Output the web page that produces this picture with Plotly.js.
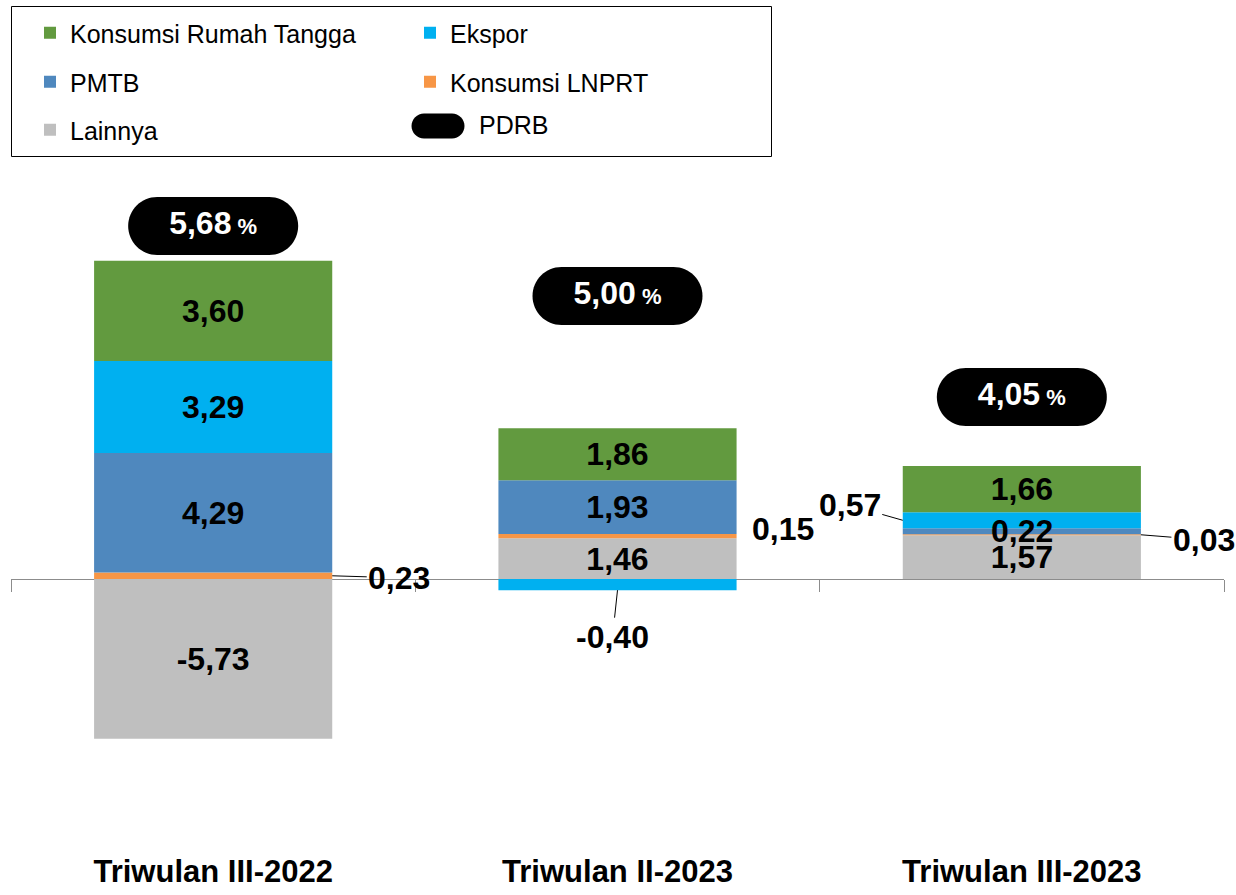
<!DOCTYPE html>
<html><head><meta charset="utf-8">
<script src="https://cdn.plot.ly/plotly-3.0.1.min.js"></script>
<style>html,body{margin:0;padding:0;background:#fff}#chart{width:1236px;height:895px}</style>
</head><body><div id="chart"></div>
<script>
// ---------- data ----------
const categories = ['Triwulan III-2022', 'Triwulan II-2023', 'Triwulan III-2023'];
const konsumsiRT = [3.60, 1.86, 1.66];
const ekspor = [3.29, -0.40, 0.57];
const pmtb = [4.29, 1.93, 0.22];
const konsumsiLNPRT = [0.23, 0.15, 0.03];
const lainnya = [-5.73, 1.46, 1.57];
const pdrb = [5.68, 5.00, 4.05];
const seriesNames = ['Konsumsi Rumah Tangga', 'Ekspor', 'PMTB', 'Konsumsi LNPRT', 'Lainnya', 'PDRB'];

// ---------- styling / layout ----------
const W = 1236, H = 895;
const M = {l: 11, r: 12, t: 180, b: 95};
const PW = W - M.l - M.r, PH = H - M.t - M.b;
const Y_RANGE = [-7.921, 14.301];
const BARW = 0.589;
const FONT = 'Liberation Sans, Arial, sans-serif';
const colors = {rt: '#629A3F', ekspor: '#00B0F0', pmtb: '#4F88BE', lnprt: '#F79646', lainnya: '#BFBFBF'};
const fmt = v => v.toFixed(2).replace('.', ',');
const px2x = px => (px - M.l) / PW;
const py2y = py => (H - M.b - py) / PH;

// stacking order (bottom to top) as used by the relative barmode
const stack = [
  {key: 'lainnya', arr: lainnya, name: seriesNames[4], legend: 'legend3', rank: 1},
  {key: 'lnprt', arr: konsumsiLNPRT, name: seriesNames[3], legend: 'legend2', rank: 2},
  {key: 'pmtb', arr: pmtb, name: seriesNames[2], legend: 'legend2', rank: 1},
  {key: 'ekspor', arr: ekspor, name: seriesNames[1], legend: 'legend', rank: 2},
  {key: 'rt', arr: konsumsiRT, name: seriesNames[0], legend: 'legend', rank: 1}
];
function segment(key, i) {
  let pos = 0, neg = 0;
  for (const s of stack) {
    const v = s.arr[i];
    const base = v >= 0 ? pos : neg;
    if (s.key === key) return [base, base + v];
    if (v >= 0) pos += v; else neg += v;
  }
}

// labels drawn outside the bar with leader lines (ax/ay are pixel offsets of the text)
const outside = [
  {key: 'lnprt', i: 0, side: 'right', ax: 67, ay: 2, line: true},
  {key: 'lnprt', i: 1, side: 'right', ax: 46, ay: -7, line: false},
  {key: 'ekspor', i: 1, side: 'bottom', ax: -5, ay: 47, line: true},
  {key: 'ekspor', i: 2, side: 'left', ax: -53, ay: -15, line: true},
  {key: 'lnprt', i: 2, side: 'right', ax: 63, ay: 5, line: true},
  {key: 'pmtb', i: 2, side: 'center', ax: 0, ay: 0, line: false}
];
const outsideSet = new Set(outside.map(o => o.key + o.i));

const traces = stack.map(s => ({
  type: 'bar',
  x: categories,
  y: s.arr,
  name: s.name,
  legend: s.legend,
  legendrank: s.rank,
  width: BARW,
  marker: {color: colors[s.key], line: {width: 0}},
  text: s.arr.map((v, i) => outsideSet.has(s.key + i) ? '' : fmt(v)),
  textposition: 'inside',
  insidetextanchor: 'middle',
  constraintext: 'none',
  textangle: 0,
  insidetextfont: {family: FONT, size: 32, color: '#000', weight: 'bold'},
  hoverinfo: 'skip'
}));

// PDRB labels (pill centres, in axis units)
const pillY = [12.65, 10.14, 6.52];
traces.push({
  type: 'scatter',
  mode: 'text',
  x: categories,
  y: pillY,
  name: seriesNames[5],
  text: pdrb.map(v => '<b>' + fmt(v) + '</b><b><span style="font-size:22px"> %</span></b>'),
  textposition: 'middle center',
  textfont: {family: FONT, size: 32, color: '#fff'},
  showlegend: false,
  cliponaxis: false,
  hoverinfo: 'skip'
});

function pillPath(hw, hh, dx) {
  const r = hh, a = hw - r, c = 0.5523 * r;
  const p = (x, y) => (x + dx).toFixed(2) + ',' + y.toFixed(2);
  return 'M' + p(-a, -r) + ' L' + p(a, -r) +
    ' C' + p(a + c, -r) + ' ' + p(a + r, -c) + ' ' + p(a + r, 0) +
    ' C' + p(a + r, c) + ' ' + p(a + c, r) + ' ' + p(a, r) +
    ' L' + p(-a, r) +
    ' C' + p(-a - c, r) + ' ' + p(-a - r, c) + ' ' + p(-a - r, 0) +
    ' C' + p(-a - r, -c) + ' ' + p(-a - c, -r) + ' ' + p(-a, -r) + ' Z';
}

const shapes = pillY.map((y, i) => ({
  type: 'path', xref: 'x', yref: 'y', xsizemode: 'pixel', ysizemode: 'pixel',
  xanchor: i, yanchor: y, path: pillPath(85, 29, 0),
  fillcolor: '#000', line: {width: 0}, layer: 'below'
}));
// legend frame
shapes.push({type: 'rect', xref: 'paper', yref: 'paper',
  x0: px2x(11.5), x1: px2x(771.5), y0: py2y(156.5), y1: py2y(6.5),
  line: {color: '#000', width: 1}, fillcolor: 'rgba(0,0,0,0)'});
// PDRB legend symbol
shapes.push({type: 'path', xref: 'paper', yref: 'paper', xsizemode: 'pixel', ysizemode: 'pixel',
  xanchor: px2x(438), yanchor: py2y(126), path: pillPath(26.5, 12.5, 0),
  fillcolor: '#000', line: {width: 0}});

const annFont = {family: FONT, size: 32, color: '#000', weight: 'bold'};
const annotations = outside.map(o => {
  const arr = stack.find(s => s.key === o.key).arr;
  const [b0, b1] = segment(o.key, o.i);
  let x = o.i, y = (b0 + b1) / 2;
  if (o.side === 'right') x = o.i + BARW / 2;
  if (o.side === 'left') x = o.i - BARW / 2;
  if (o.side === 'bottom') y = Math.min(b0, b1);
  if (o.side === 'center') {
    return {x: categories[o.i], y: y, xref: 'x', yref: 'y', text: fmt(arr[o.i]), showarrow: false, font: annFont};
  }
  return {x: x, y: y, xref: 'x', yref: 'y', text: fmt(arr[o.i]), font: annFont,
    showarrow: true, arrowhead: 0, arrowwidth: 1, standoff: 0,
    arrowcolor: o.line ? '#000' : 'rgba(0,0,0,0)', ax: o.ax, ay: o.ay};
});
annotations.push({xref: 'paper', yref: 'paper', x: px2x(477), y: py2y(125), xanchor: 'left', yanchor: 'middle',
  text: seriesNames[5], showarrow: false, font: {family: FONT, size: 25, color: '#000'}});

const legendBase = {orientation: 'h', xref: 'container', yref: 'container', x: 30 / W,
  xanchor: 'left', yanchor: 'middle', entrywidth: 335, bgcolor: 'rgba(0,0,0,0)', borderwidth: 0,
  font: {family: FONT, size: 25, color: '#000'}, traceorder: 'normal'};

const layout = {
  width: W, height: H,
  margin: M,
  paper_bgcolor: '#fff', plot_bgcolor: '#fff',
  barmode: 'relative',
  showlegend: true,
  legend: Object.assign({}, legendBase, {y: 1 - 33 / H}),
  legend2: Object.assign({}, legendBase, {y: 1 - 82 / H}),
  legend3: Object.assign({}, legendBase, {y: 1 - 130 / H}),
  xaxis: {
    type: 'category', categoryarray: categories, range: [-0.5, 2.5],
    anchor: 'free', position: (0 - Y_RANGE[0]) / (Y_RANGE[1] - Y_RANGE[0]),
    showline: true, linecolor: '#8c8c8c', linewidth: 1,
    ticks: 'outside', tickson: 'boundaries', ticklen: 12, tickcolor: '#8c8c8c', tickwidth: 1,
    showgrid: false, zeroline: false, layer: 'below traces',
    tickfont: {family: FONT, size: 31, color: '#000', weight: 'bold'},
    ticklabelstandoff: 265, fixedrange: true
  },
  yaxis: {range: Y_RANGE, visible: false, showgrid: false, zeroline: false, fixedrange: true},
  shapes: shapes,
  annotations: annotations
};

Plotly.newPlot('chart', traces, layout, {staticPlot: true, displayModeBar: false});
</script>
</body></html>
